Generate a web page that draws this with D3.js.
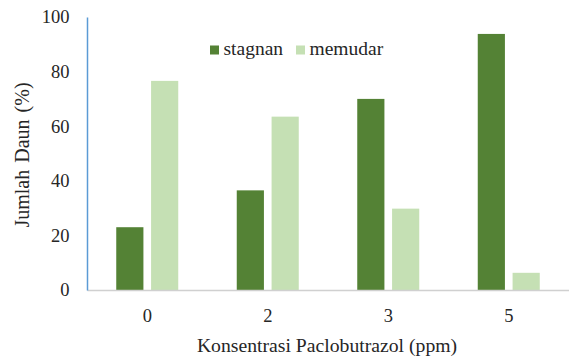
<!DOCTYPE html>
<html>
<head>
<meta charset="utf-8">
<script src="https://cdn.jsdelivr.net/npm/d3@7"></script>
<style>
  body { margin: 0; background: #fff; }
</style>
</head>
<body>
<div id="chart"></div>
<script>
const categories = ["0", "2", "3", "5"];
const seriesNames = ["stagnan", "memudar"];
const stagnan = [23, 36.5, 70, 93.8];
const memudar = [76.6, 63.5, 29.8, 6.3];
const yTicks = [0, 20, 40, 60, 80, 100];
const colors = { stagnan: "#548235", memudar: "#c5e0b4" };

const FONT = "'Liberation Serif'";
const W = 569, H = 358;
const margin = { top: 17, right: 0, bottom: 68, left: 87 };
const width = W - margin.left - margin.right;
const height = H - margin.top - margin.bottom;

const data = categories.map((c, i) => ({ cat: c, stagnan: stagnan[i], memudar: memudar[i] }));

const svg = d3.select("#chart").append("svg")
  .attr("width", W)
  .attr("height", H);

const g = svg.append("g")
  .attr("transform", `translate(${margin.left},${margin.top})`);

const x0 = d3.scaleBand()
  .domain(categories)
  .range([0, width])
  .padding(0);

const bw = x0.bandwidth();
const x1 = d3.scaleBand()
  .domain(seriesNames)
  .range([bw / 2 - 31, bw / 2 + 31])
  .paddingInner(0.22);

const y = d3.scaleLinear()
  .domain([0, 100])
  .range([height, 0]);

// bars
g.selectAll("g.grp")
  .data(data)
  .enter()
  .append("g")
  .attr("class", "grp")
  .attr("transform", d => `translate(${x0(d.cat)},0)`)
  .selectAll("rect")
  .data(d => seriesNames.map(s => ({ key: s, value: d[s] })))
  .enter()
  .append("rect")
  .attr("x", d => x1(d.key))
  .attr("width", x1.bandwidth())
  .attr("y", d => y(d.value))
  .attr("height", d => height - y(d.value))
  .attr("fill", d => colors[d.key]);

// x axis (baseline + labels)
const xAxis = g.append("g")
  .attr("transform", `translate(0,${height})`)
  .call(d3.axisBottom(x0).tickSize(0).tickPadding(19));
xAxis.attr("font-family", null);
xAxis.select(".domain").attr("stroke", "#d0d0d0").attr("stroke-width", 1.5);
xAxis.selectAll("text")
  .style("font-family", FONT)
  .style("font-size", "18.5px")
  .attr("fill", "#262626");

// y axis
const yAxis = g.append("g")
  .call(d3.axisLeft(y).tickValues(yTicks).tickSize(0).tickPadding(17.5));
yAxis.attr("font-family", null);
yAxis.select(".domain").attr("stroke", "#5b9bd5").attr("stroke-width", 1.5);
yAxis.selectAll("text")
  .style("font-family", FONT)
  .style("font-size", "18.5px")
  .attr("fill", "#262626");

// axis titles
svg.append("text")
  .attr("x", 327)
  .attr("y", 352)
  .attr("text-anchor", "middle")
  .style("font-family", FONT)
  .style("font-size", "19.7px")
  .attr("fill", "#262626")
  .text("Konsentrasi Paclobutrazol (ppm)");

svg.append("text")
  .attr("transform", "rotate(-90)")
  .attr("x", -155)
  .attr("y", 29)
  .attr("text-anchor", "middle")
  .style("font-family", FONT)
  .style("font-size", "20px")
  .style("word-spacing", "2px")
  .attr("fill", "#262626")
  .text("Jumlah Daun (%)");

// legend
const legend = svg.append("g").attr("transform", "translate(210,45.5)");
const legendX = [0, 86];
seriesNames.forEach((s, i) => {
  const item = legend.append("g").attr("transform", `translate(${legendX[i]},0)`);
  item.append("rect")
    .attr("width", 9).attr("height", 9)
    .attr("fill", colors[s]);
  item.append("text")
    .attr("x", 13.5).attr("y", 9.5)
    .style("font-family", FONT)
    .style("font-size", "19.5px")
    .attr("fill", "#262626")
    .text(s);
});
</script>
</body>
</html>
